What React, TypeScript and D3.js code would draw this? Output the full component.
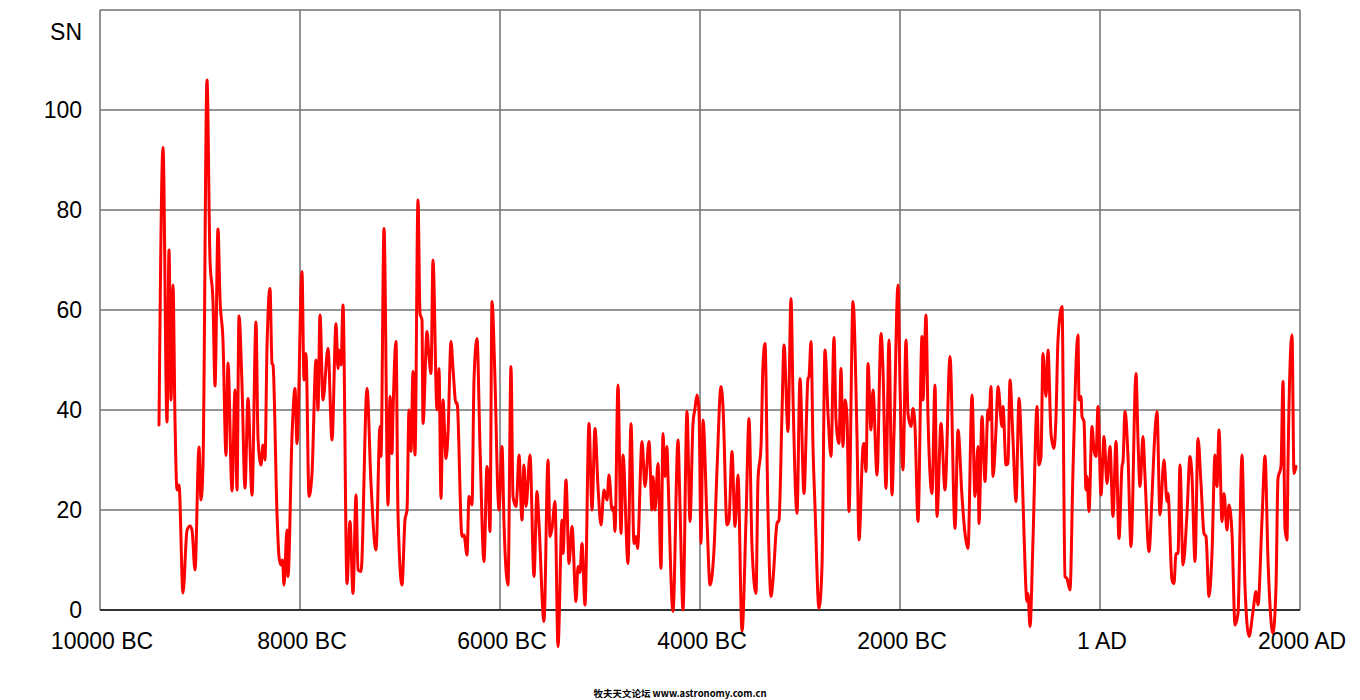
import React from "react";
import * as d3 from "d3";

const years: number[] = [
  -9410, -9370, -9330, -9310, -9290, -9270, -9250, -9230, -9210, -9170, -9130, -9100, -9080, -9050, -9010, -8990, -8970,
  -8930, -8900, -8870, -8850, -8820, -8800, -8770, -8740, -8720, -8680, -8650, -8630, -8610, -8580, -8550, -8520, -8480,
  -8440, -8420, -8390, -8370, -8350, -8330, -8300, -8280, -8270, -8230, -8210, -8190, -8175, -8160, -8130, -8120, -8080,
  -8050, -8030, -7980, -7960, -7940, -7910, -7880, -7840, -7820, -7800, -7770, -7720, -7680, -7640, -7620, -7610, -7590,
  -7570, -7530, -7500, -7470, -7440, -7420, -7390, -7330, -7290, -7240, -7200, -7190, -7160, -7120, -7100, -7080, -7070,
  -7040, -7020, -6980, -6950, -6930, -6910, -6890, -6870, -6850, -6820, -6800, -6780, -6770, -6730, -6710, -6690, -6670,
  -6630, -6610, -6590, -6570, -6540, -6520, -6490, -6470, -6440, -6430, -6380, -6360, -6330, -6310, -6280, -6260, -6230,
  -6200, -6160, -6130, -6120, -6100, -6080, -6050, -6020, -6010, -5980, -5960, -5920, -5890, -5870, -5840, -5830, -5810,
  -5780, -5760, -5740, -5700, -5660, -5630, -5610, -5560, -5520, -5500, -5480, -5450, -5420, -5380, -5370, -5340, -5310,
  -5280, -5240, -5220, -5200, -5180, -5150, -5110, -5080, -5050, -5020, -4990, -4960, -4930, -4910, -4880, -4865, -4850,
  -4820, -4790, -4770, -4720, -4690, -4660, -4640, -4625, -4580, -4550, -4510, -4480, -4470, -4450, -4420, -4390, -4370,
  -4350, -4330, -4320, -4270, -4220, -4200, -4170, -4130, -4100, -4070, -4050, -4030, -4010, -3990, -3970, -3930, -3900,
  -3860, -3830, -3790, -3770, -3730, -3710, -3680, -3650, -3620, -3580, -3540, -3510, -3480, -3440, -3420, -3390, -3370,
  -3350, -3320, -3290, -3270, -3230, -3210, -3180, -3160, -3120, -3090, -3070, -3030, -3000, -2960, -2920, -2910, -2890,
  -2870, -2850, -2810, -2780, -2750, -2720, -2690, -2660, -2640, -2610, -2590, -2570, -2550, -2530, -2510, -2470, -2430,
  -2410, -2370, -2360, -2340, -2320, -2290, -2270, -2230, -2190, -2170, -2140, -2110, -2080, -2060, -2020, -2000, -1970,
  -1940, -1920, -1890, -1870, -1850, -1820, -1780, -1770, -1740, -1720, -1680, -1650, -1630, -1590, -1550, -1500, -1450,
  -1420, -1380, -1350, -1320, -1280, -1250, -1220, -1210, -1180, -1150, -1120, -1110, -1090, -1070, -1040, -1020, -980,
  -970, -940, -920, -900, -870, -840, -810, -780, -760, -730, -720, -700, -670, -630, -610, -590, -570, -540, -520, -490,
  -460, -440, -420, -380, -350, -330, -300, -270, -220, -210, -190, -180, -160, -140, -130, -110, -80, -60, -40, -20, 10,
  40, 70, 100, 130, 160, 190, 220, 230, 250, 280, 310, 360, 380, 400, 430, 450, 490, 520, 540, 570, 600, 640, 670, 680,
  720, 740, 760, 780, 800, 830, 870, 900, 920, 950, 980, 1010, 1040, 1060, 1090, 1120, 1150, 1170, 1190, 1220, 1240, 1270,
  1290, 1320, 1350, 1380, 1420, 1450, 1490, 1530, 1560, 1580, 1620, 1650, 1680, 1730, 1760, 1780, 1810, 1830, 1850, 1870,
  1880, 1920, 1940, 1960,
];

const sn: number[] = [
  37, 92.5, 37.6, 72, 42, 65, 38, 24, 25, 3.4, 15.9, 16.8, 16, 8, 32.6, 22, 29,
  106, 70, 61.6, 44.8, 76.2, 62.3, 53.8, 30.9, 49.4, 23.8, 44, 24, 58.8, 45, 24.4, 42.3, 23,
  57.6, 34.4, 29, 33, 30, 52.5, 64.3, 49.3, 49, 19.3, 10.7, 9, 10, 5, 16, 6.7, 34.7,
  44.3, 33.3, 67.7, 46, 51.3, 22.7, 27.3, 50, 40, 59, 42, 52.3, 34, 57.3, 48.3, 52, 49,
  61, 5.3, 17.7, 3.3, 23, 8, 7.7, 44.3, 25.3, 12, 36.7, 30.7, 76.3, 21, 42.7, 31.3, 39.3,
  53.7, 19.3, 5, 18, 20, 40, 31.7, 47.7, 31, 82, 59.3, 58, 37.3, 55.7, 50.7, 47.3, 70,
  40, 48.3, 22.3, 42, 30.3, 35.3, 53.7, 48.3, 41.3, 41.5, 14.7, 15, 11, 22.7, 21, 46, 54.3,
  32.7, 9.7, 28.7, 27.3, 15.7, 61.7, 46, 22.7, 20, 32.7, 17.3, 5, 48.7, 22.7, 20.7, 23, 31,
  18, 29, 20.7, 31, 6.7, 23.7, 17.3, -2.3, 30, 14.7, 16.3, 21.7, -7.3, 18, 11.3, 26, 9.3,
  16.7, 1.7, 8.7, 7.5, 13.3, 1, 37.3, 20, 36.3, 24.7, 17, 24, 22, 27, 20, 20.5, 15.7,
  45, 15.3, 31, 9.3, 37.3, 13.3, 14.7, 12.3, 33.7, 24.7, 33.7, 20, 26.7, 20, 29.3, 8.3, 35.3,
  26.7, 32.7, 26.7, -0.3, 34, 20.7, 0, 39.7, 17.7, 37.3, 40.3, 43, 40, 13.3, 38, 18, 5,
  12, 28, 44.7, 40.7, 17, 18, 31.7, 16.7, 27, -4.3, 18, 38.3, 12.7, 3.3, 26, 32.7, 49,
  53.3, 19.3, 2.7, 6, 17.3, 18, 39.3, 53, 35.7, 62.3, 42.7, 19.3, 46.3, 23.3, 46.3, 46.7, 53.7,
  32.7, 20.7, 0.3, 8.7, 52, 39.3, 30.7, 54.5, 38, 33.3, 48.3, 32.7, 42, 38.7, 19.7, 61.7, 34.7,
  14, 32.7, 33.3, 27.7, 49.3, 36, 44, 27, 55.3, 48, 24.3, 54, 23, 35.3, 65, 44.7, 28,
  54, 39.3, 36.7, 40.3, 36.7, 17.7, 54.7, 42, 59, 38.7, 23.3, 45, 18.7, 37.3, 24, 50.7, 16.3,
  36, 22.7, 15.3, 12.3, 43, 22.7, 32.7, 17.3, 38.7, 25.7, 40, 38, 44.7, 26.7, 36, 44.7, 36.7,
  40.7, 29, 29.3, 46, 34, 21.7, 42.3, 28.7, 15.3, 1.7, 3.3, -3.3, 14, 40.7, 29, 30.7, 51.3, 42.7, 52, 35.3,
  32.3, 38.7, 54, 60.7, 6.7, 6.3, 4, 28, 55, 42, 42.7, 38.7, 37.7, 24, 26.7, 19.7, 36.7, 32, 30.7, 40.7, 23,
  34.7, 25.3, 32.7, 18.7, 33.7, 14.3, 28.7, 29.7, 39.7, 30.7, 12.7, 47.3, 34, 24.7, 34.7, 26.7, 11.7, 22.7, 32, 39.7, 19, 30, 21.7, 23.3,
  6, 5.3, 11.3, 11.3, 29, 9, 19.3, 30.7, 26.7, 9.7, 34.3, 25.3, 15.3, 14.7, 2.7, 11.3, 31, 24.7, 36, 17.7, 23.3, 16,
  21, 15.3, -3, -0.7, 31, 4.7, -5.3, -0.3, 3.7, 1, 18, 30.8, 10, -4.7, 4.7, 26.3, 28.7, 45.7, 16.3, 14,
  29.3, 55, 27.3, 28.7,
];

const yTicks: number[] = [0, 20, 40, 60, 80, 100];
const xTicks: number[] = [-10000, -8000, -6000, -4000, -2000, 0, 2000];
const xTickLabels: string[] = ["10000 BC", "8000 BC", "6000 BC", "4000 BC", "2000 BC", "1 AD", "2000 AD"];

const W = 1360;
const H = 700;
const FONT = "'Liberation Sans', Arial, Helvetica, sans-serif";

export default function App() {
  const x = d3.scaleLinear().domain([-10000, 2000]).range([100, 1300]);
  const y = d3.scaleLinear().domain([0, 120]).range([610, 10]);
  const pts: [number, number][] = years.map((yr, i) => [yr, sn[i]]);
  const line = d3
    .line<[number, number]>()
    .x((d) => x(d[0]))
    .y((d) => y(d[1]))
    .curve(d3.curveMonotoneX);
  const path = line(pts) || "";
  const gridColor = "#707070";

  return (
    <svg
      width={W}
      height={H}
      viewBox={`0 0 ${W} ${H}`}
      style={{ position: "absolute", left: 0, top: 0, background: "#fff" }}
    >
      <rect x={0} y={0} width={W} height={H} fill="#fff" />
      {yTicks.concat([120]).filter((t) => t !== 0).map((t) => (
        <line key={"h" + t} x1={x(-10000)} x2={x(2000)} y1={y(t)} y2={y(t)} stroke={gridColor} strokeWidth={1.5} />
      ))}
      {xTicks.map((t) => (
        <line key={"v" + t} x1={x(t)} x2={x(t)} y1={y(120)} y2={y(0)} stroke={gridColor} strokeWidth={1.5} />
      ))}
      <line x1={x(-10000)} x2={x(2000)} y1={y(0)} y2={y(0)} stroke="#333" strokeWidth={2} />
      <path d={path} fill="none" stroke="#ff0000" strokeWidth={3} strokeLinejoin="round" strokeLinecap="round" />
      {yTicks.map((t) => (
        <text key={"yl" + t} x={82} y={y(t) + 8} textAnchor="end" fontFamily={FONT} fontSize={23} fill="#000">
          {t}
        </text>
      ))}
      <text x={82} y={40} textAnchor="end" fontFamily={FONT} fontSize={23} fill="#000">
        SN
      </text>
      {xTicks.map((t, i) => (
        <text key={"xl" + t} x={x(t) + 2} y={649} textAnchor="middle" fontFamily={FONT} fontSize={23} fill="#000">
          {xTickLabels[i]}
        </text>
      ))}
      <text
        x={680}
        y={697}
        textAnchor="middle"
        fontFamily="'Noto Sans CJK SC', 'Liberation Sans', sans-serif"
        fontSize={9.5}
        fontWeight="bold"
        fill="#000"
      >
        牧夫天文论坛 www.astronomy.com.cn
      </text>
    </svg>
  );
}
